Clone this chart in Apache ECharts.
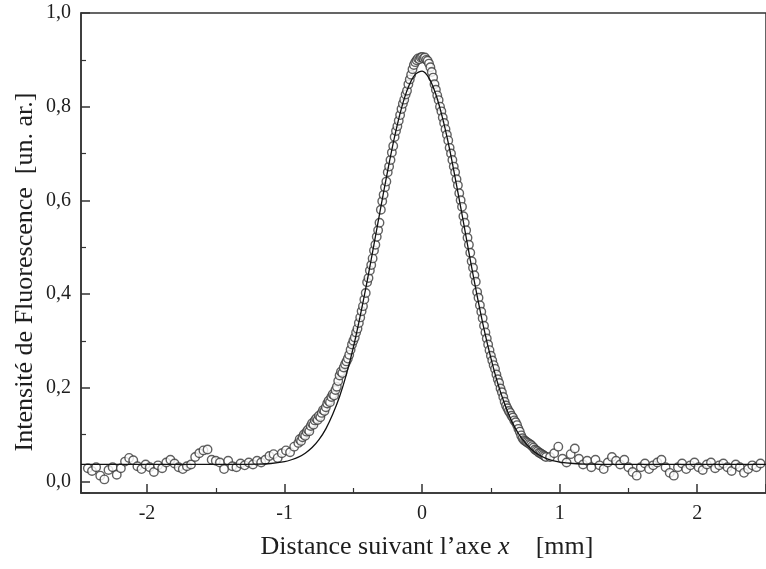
<!DOCTYPE html>
<html><head><meta charset="utf-8">
<script src="https://cdn.jsdelivr.net/npm/echarts@6/dist/echarts.min.js"></script>
<style>html,body{margin:0;padding:0;background:#fff}#c{width:766px;height:569px}</style>
</head><body><div id="c"></div>
<script>
// Measured points: three sampled segments (start, step, values)
const leftStart = -2.43, leftStep = 0.03;
const leftY = [0.028,0.022,0.030,0.012,0.004,0.024,0.030,0.014,0.028,0.042,
  0.050,0.045,0.032,0.026,0.036,0.030,0.020,0.034,0.028,0.040,
  0.046,0.038,0.030,0.026,0.032,0.036,0.052,0.060,0.066,0.068,
  0.046,0.044,0.040,0.026,0.044,0.032,0.030,0.038,0.034,0.040,
  0.036,0.044,0.040,0.046,0.054,0.058,0.050,0.060,0.066,0.062,
  0.074];
const coreStart = -0.90, coreStep = 0.01;
const coreY = [0.082,0.090,0.086,0.094,0.100,0.097,0.106,0.110,0.107,0.118,
  0.124,0.121,0.130,0.134,0.131,0.140,0.137,0.146,0.152,0.150,
  0.158,0.166,0.172,0.169,0.180,0.186,0.183,0.195,0.202,0.214,
  0.226,0.234,0.231,0.243,0.250,0.256,0.262,0.270,0.281,0.292,
  0.300,0.307,0.318,0.326,0.338,0.350,0.363,0.374,0.388,0.402,
  0.425,0.434,0.450,0.462,0.476,0.493,0.505,0.522,0.536,0.552,
  0.580,0.598,0.612,0.628,0.640,0.660,0.672,0.686,0.702,0.716,
  0.735,0.748,0.758,0.770,0.782,0.795,0.806,0.815,0.826,0.834,
  0.848,0.858,0.868,0.880,0.889,0.895,0.899,0.903,0.901,0.905,
  0.906,0.903,0.905,0.900,0.898,0.892,0.884,0.874,0.862,0.848,
  0.836,0.824,0.814,0.800,0.790,0.777,0.765,0.752,0.740,0.728,
  0.712,0.700,0.686,0.672,0.660,0.645,0.632,0.615,0.600,0.586,
  0.566,0.552,0.536,0.520,0.505,0.488,0.470,0.456,0.440,0.426,
  0.404,0.392,0.376,0.362,0.348,0.332,0.318,0.305,0.292,0.280,
  0.268,0.258,0.248,0.240,0.228,0.218,0.210,0.198,0.190,0.180,
  0.170,0.162,0.156,0.150,0.146,0.140,0.136,0.130,0.126,0.120,
  0.112,0.106,0.098,0.092,0.088,0.086,0.084,0.082,0.080,0.078,
  0.075,0.072,0.068,0.066,0.064,0.061,0.060,0.058,0.056,0.054,0.052];
const rightStart = 0.93, rightStep = 0.03;
const rightY = [0.052,0.060,0.074,0.048,0.040,0.058,0.070,0.048,0.036,0.044,
  0.030,0.046,0.034,0.026,0.040,0.052,0.044,0.036,0.046,0.030,
  0.020,0.012,0.030,0.038,0.026,0.034,0.040,0.046,0.030,0.018,
  0.012,0.030,0.038,0.026,0.034,0.040,0.030,0.024,0.036,0.040,
  0.028,0.034,0.038,0.030,0.022,0.036,0.030,0.018,0.026,0.034,
  0.030,0.038];

// Fitted curve
const fitX = [-2.48,-1.4,-1.2,-1.1,-1.0,-0.95,-0.9,-0.85,-0.8,-0.75,-0.7,-0.65,-0.6,-0.55,-0.5,-0.45,-0.4,-0.35,-0.3,-0.25,-0.2,-0.15,-0.1,-0.05,0,0.05,0.1,0.15,0.2,0.25,0.3,0.35,0.4,0.45,0.5,0.55,0.6,0.65,0.7,0.75,0.8,0.85,0.9,0.95,1.0,1.1,1.2,1.4,2.5];
const fitY = [0.036,0.036,0.0365,0.038,0.042,0.046,0.0515,0.060,0.072,0.089,0.112,0.143,0.181,0.229,0.286,0.353,0.427,0.506,0.586,0.664,0.736,0.797,0.842,0.869,0.876,0.861,0.826,0.774,0.709,0.633,0.554,0.473,0.396,0.325,0.263,0.209,0.165,0.129,0.102,0.082,0.067,0.056,0.049,0.044,0.041,0.038,0.0365,0.036,0.036];

const xLabel = 'Distance suivant l’axe ';
const xVar = 'x';
const xUnit = '    [mm]';
const yTitle = 'Intensité de Fluorescence  [un. ar.]';

function seg(start, step, ys) { return ys.map((y, i) => [Math.round((start + i * step) * 1000) / 1000, y]); }
const points = seg(leftStart, leftStep, leftY).concat(seg(coreStart, coreStep, coreY), seg(rightStart, rightStep, rightY));
const fitData = fitX.map((x, i) => [x, fitY[i]]);

const FONT = 'Liberation Serif';
const AX = '#333';
const TXT = '#1e1e1e';
const chart = echarts.init(document.getElementById('c'), null, {renderer: 'canvas'});
chart.setOption({
  animation: false,
  backgroundColor: '#fff',
  grid: {left: 81, right: -2, top: 13, bottom: 76, show: true, borderColor: AX, borderWidth: 1.5},
  xAxis: {
    type: 'value', min: -2.48, max: 2.5, splitNumber: 5,
    axisLine: {show: true, onZero: false, lineStyle: {color: AX, width: 1.5}},
    axisTick: {show: true, inside: true, length: 9, lineStyle: {color: AX, width: 1.5}},
    minorTick: {show: true, splitNumber: 2, length: 5, lineStyle: {color: AX, width: 1.2}},
    splitLine: {show: false},
    axisLabel: {showMinLabel: false, showMaxLabel: false, fontFamily: FONT, fontSize: 20, color: TXT, margin: 11,
      formatter: v => (Math.abs(v - Math.round(v)) < 1e-6 ? String(Math.round(v)) : '')}
  },
  yAxis: {
    type: 'value', min: -0.025, max: 1.0, splitNumber: 5,
    axisLine: {show: true, onZero: false, lineStyle: {color: AX, width: 1.5}},
    axisTick: {show: true, inside: true, length: 9, lineStyle: {color: AX, width: 1.5}},
    minorTick: {show: true, splitNumber: 2, length: 5, lineStyle: {color: AX, width: 1.2}},
    splitLine: {show: false},
    axisLabel: {showMinLabel: false, fontFamily: FONT, fontSize: 20, color: TXT, margin: 10,
      formatter: v => (v < -1e-9 ? '' : v.toFixed(1).replace('.', ','))}
  },
  graphic: [
    {type: 'text', x: 25, y: 272, rotation: Math.PI / 2,
      style: {text: yTitle, font: '26px "Liberation Serif"', fill: TXT, align: 'center', verticalAlign: 'middle'}},
    {type: 'text', x: 427, y: 547,
      style: {text: '{n|' + xLabel + '}{i|' + xVar + '}{n|' + xUnit + '}', align: 'center', verticalAlign: 'middle',
        rich: {n: {fontFamily: FONT, fontSize: 26, fill: TXT, color: TXT},
               i: {fontFamily: FONT, fontSize: 26, fontStyle: 'italic', fill: TXT, color: TXT}}}}
  ],
  series: [
    {type: 'scatter', data: points, symbol: 'circle', symbolSize: 8.5, z: 2,
      itemStyle: {color: '#fff', borderColor: '#383838', borderWidth: 1.4}},
    {type: 'line', data: fitData, showSymbol: false, smooth: 0.3, z: 3,
      lineStyle: {color: '#111', width: 1.3}}
  ]
});
</script></body></html>
